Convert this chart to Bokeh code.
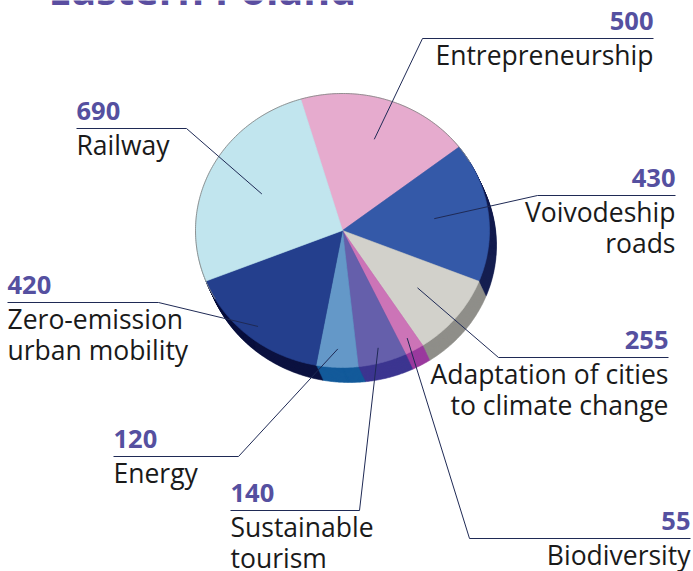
import numpy as np
from bokeh.plotting import figure
from bokeh.models import Range1d
from bokeh.core.properties import value
from bokeh.embed import file_html
from bokeh.resources import INLINE

# ---------------- data ----------------
title = "Eastern Poland"
categories = ["Entrepreneurship", "Voivodeship roads",
              "Adaptation of cities to climate change", "Biodiversity",
              "Sustainable tourism", "Energy",
              "Zero-emission urban mobility", "Railway"]
label_lines = [["Entrepreneurship"], ["Voivodeship", "roads"],
               ["Adaptation of cities", "to climate change"], ["Biodiversity"],
               ["Sustainable", "tourism"], ["Energy"],
               ["Zero-emission", "urban mobility"], ["Railway"]]
values = [500, 430, 255, 55, 140, 120, 420, 690]

# ---------------- style ----------------
top_colors = ["#E6ABCE", "#3459A8", "#D2D1CB", "#CC74B7",
              "#655FAB", "#6498C8", "#243F8D", "#C1E5EE"]
side_colors = ["#B07A9A", "#151F50", "#8F8E89", "#9A3A9E",
               "#3C3590", "#135A9A", "#0C1240", "#8FB5C0"]
num_color = "#5550A0"
txt_color = "#1A1A1A"
lead_color = "#1F2A55"
FONT = value("Open Sans")
NUM_SIZE = 25.5
TXT_SIZE = 26.5
TITLE_SIZE = 41
BASE_SHIFT = 0.4  # renderer places alphabetic baseline ~0.4em lower

# label layout: (line x start, line x end, line y, align, anchor radius fraction)
layout = [(422, 653, 38, "right", 0.70),
          (537, 675, 195, "right", 0.63),
          (498, 668, 357, "right", 0.66),
          (469, 690, 538, "right", 0.90),
          (230, 359, 510, "left", 0.89),
          (113, 238, 456, "left", 0.865),
          (7, 158, 302, "left", 0.906),
          (76, 186, 128, "left", 0.61)]

W, H = 693, 571
cx, cy, rx, ry = 342, 230, 147, 137
ddx, ddy = 7, 15
start = -16.5

p = figure(width=W, height=H, x_range=Range1d(0, W), y_range=Range1d(H, 0),
           output_backend="svg", toolbar_location=None,
           x_axis_type=None, y_axis_type=None, min_border=0,
           outline_line_color=None, background_fill_color="white",
           border_fill_color="white",
           styles={"position": "absolute", "left": "0px", "top": "0px"})

vals = np.array(values, dtype=float)
deg = vals / vals.sum() * 360.0
t_end = start + np.cumsum(deg)
t_start = t_end - deg
t_mid = (t_start + t_end) / 2


def wedge(t0, t1, ox=0.0, oy=0.0):
    n = max(int(abs(t1 - t0) * 2), 4)
    a = np.radians(np.linspace(t0, t1, n))
    xs = [cx + ox] + list(cx + ox + rx * np.sin(a))
    ys = [cy + oy] + list(cy + oy - ry * np.cos(a))
    return xs, ys


# side (extrusion) layers
N = 16
for k in range(N, 0, -1):
    f = k / N
    xs_l, ys_l = [], []
    for t0, t1 in zip(t_start, t_end):
        xs, ys = wedge(t0, t1, ddx * f, ddy * f)
        xs_l.append(xs)
        ys_l.append(ys)
    p.patches(xs_l, ys_l, fill_color=side_colors, line_color=side_colors,
              line_width=0.6)

# top face
xs_l, ys_l = [], []
for t0, t1 in zip(t_start, t_end):
    xs, ys = wedge(t0, t1)
    xs_l.append(xs)
    ys_l.append(ys)
p.patches(xs_l, ys_l, fill_color=top_colors, line_color=top_colors,
          line_width=0.6)

# rim outline on the back edge
a = np.radians(np.linspace(240, 420, 200))
p.line(cx + rx * np.sin(a), cy - ry * np.cos(a), line_color="#8a8a8a",
       line_width=1, line_alpha=0.9)

# leader lines
lx, ly = [], []
for (x0, x1, yl, al, rf), tm in zip(layout, t_mid):
    a = np.radians(tm)
    ix = cx + rf * rx * np.sin(a)
    iy = cy - rf * ry * np.cos(a)
    if al == "right":
        lx.append([ix, x0, x1])
    else:
        lx.append([ix, x1, x0])
    ly.append([iy, yl, yl])
p.multi_line(lx, ly, line_color=lead_color, line_width=1)

# labels
for al in ("left", "right"):
    nx, ny, nt = [], [], []
    tx, ty, tt = [], [], []
    for (x0, x1, yl, a2, rf), v, lines in zip(layout, values, label_lines):
        if a2 != al:
            continue
        xa = x0 if al == "left" else x1
        nx.append(xa); ny.append(yl - 7 - BASE_SHIFT * NUM_SIZE); nt.append(str(v))
        for i, ln in enumerate(lines):
            tx.append(xa)
            ty.append(yl + 27 + 31.5 * i - BASE_SHIFT * TXT_SIZE)
            tt.append(ln)
    p.text(nx, ny, text=nt, text_font=FONT, text_font_style="bold",
           text_font_size=f"{NUM_SIZE}px", text_color=num_color, text_align=al,
           text_baseline="alphabetic")
    p.text(tx, ty, text=tt, text_font=FONT, text_font_size=f"{TXT_SIZE}px",
           text_color=txt_color, text_align=al, text_baseline="alphabetic")

# title (cropped at top as in the reference)
p.text([48], [5 - BASE_SHIFT * TITLE_SIZE], text=[title], text_font=FONT,
       text_font_style="bold", text_font_size=f"{TITLE_SIZE}px",
       text_color="#5A4EA0", text_align="left", text_baseline="alphabetic")

open("out.html", "w").write(file_html(p, INLINE))
